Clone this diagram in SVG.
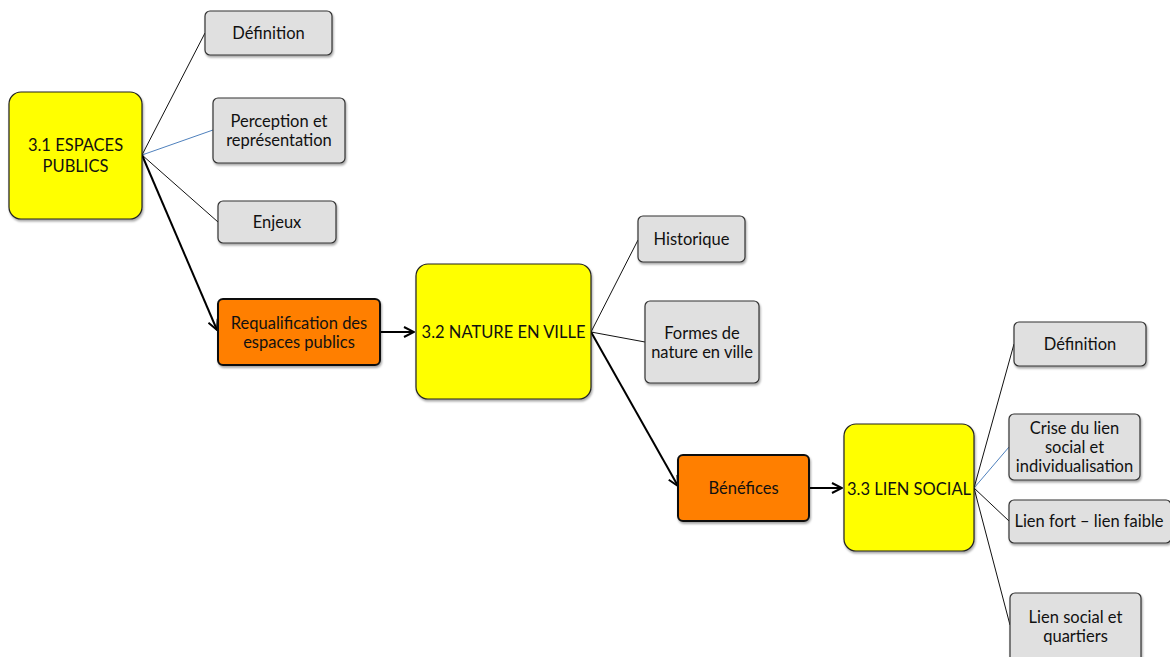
<svg xmlns="http://www.w3.org/2000/svg" width="1170" height="657" viewBox="0 0 1170 657">
<defs>
<filter id="sh" x="-10%" y="-10%" width="130%" height="130%"><feDropShadow dx="1" dy="2" stdDeviation="1.2" flood-color="#000" flood-opacity="0.35"/></filter>
<marker id="ar" viewBox="0 0 12 12" refX="11" refY="6" markerWidth="12" markerHeight="12" markerUnits="userSpaceOnUse" orient="auto"><path d="M1,1 L11,6 L1,11" fill="none" stroke="#000" stroke-width="2"/></marker>
<style>
.y{fill:#ffff00;stroke:#222;stroke-width:1.2;filter:url(#sh)}
.g{fill:#e0e0e0;stroke:#333;stroke-width:1.2;filter:url(#sh)}
.o{fill:#ff7f00;stroke:#111;stroke-width:2;filter:url(#sh)}
text{font-family:Lato,"Open Sans","Liberation Sans",sans-serif;font-size:16.5px;fill:#111;text-anchor:middle}
.thin{stroke:#111;stroke-width:1;fill:none}
.blue{stroke:#4f81bd;stroke-width:1;fill:none}
.thick{stroke:#000;stroke-width:2;fill:none;marker-end:url(#ar)}
</style>
</defs>
<g id="connectors">
<line class="thin" x1="142" y1="155" x2="205" y2="33"/>
<line class="blue" x1="142" y1="155" x2="213" y2="130"/>
<line class="thin" x1="142" y1="155" x2="218" y2="222"/>
<line class="thick" x1="142" y1="155" x2="217" y2="330"/>
<line class="thick" x1="380" y1="332" x2="414" y2="332"/>
<line class="thin" x1="591" y1="332" x2="638" y2="240"/>
<line class="thin" x1="591" y1="332" x2="645" y2="342"/>
<line class="thick" x1="591" y1="332" x2="678" y2="486"/>
<line class="thick" x1="809" y1="488" x2="842" y2="488"/>
<line class="thin" x1="974" y1="488" x2="1014" y2="344"/>
<line class="blue" x1="974" y1="488" x2="1009" y2="447"/>
<line class="thin" x1="974" y1="488" x2="1009" y2="521"/>
<line class="thin" x1="974" y1="488" x2="1010" y2="625"/>
</g>
<g id="n31"><rect class="y" x="9" y="92" width="133" height="127" rx="12"/><text x="75.5" y="151">3.1 ESPACES</text><text x="75.5" y="172">PUBLICS</text></g>
<g id="def1"><rect class="g" x="205" y="11" width="127" height="44" rx="5"/><text x="268.5" y="39">Définition</text></g>
<g id="perc"><rect class="g" x="213" y="98" width="132" height="65" rx="5"/><text x="279" y="127">Perception et</text><text x="279" y="146">représentation</text></g>
<g id="enj"><rect class="g" x="218" y="201" width="118" height="42" rx="5"/><text x="277" y="228">Enjeux</text></g>
<g id="requal"><rect class="o" x="218" y="299" width="162" height="66" rx="5"/><text x="299" y="329">Requalification des</text><text x="299" y="348">espaces publics</text></g>
<g id="n32"><rect class="y" x="416" y="264" width="175" height="135" rx="12"/><text x="503.5" y="338">3.2 NATURE EN VILLE</text></g>
<g id="hist"><rect class="g" x="638" y="216" width="107" height="46" rx="5"/><text x="691.5" y="245">Historique</text></g>
<g id="formes"><rect class="g" x="645" y="301" width="114" height="82" rx="5"/><text x="702" y="339">Formes de</text><text x="702" y="358">nature en ville</text></g>
<g id="benef"><rect class="o" x="678" y="455" width="131" height="66" rx="5"/><text x="743.5" y="494">Bénéfices</text></g>
<g id="n33"><rect class="y" x="844" y="424" width="130" height="127" rx="12"/><text x="909" y="495">3.3 LIEN SOCIAL</text></g>
<g id="def2"><rect class="g" x="1014" y="322" width="132" height="44" rx="5"/><text x="1080" y="350">Définition</text></g>
<g id="crise"><rect class="g" x="1009" y="414" width="131" height="66" rx="5"/><text x="1074.5" y="434">Crise du lien</text><text x="1074.5" y="453">social et</text><text x="1074.5" y="472">individualisation</text></g>
<g id="fort"><rect class="g" x="1009" y="500" width="162" height="43" rx="5"/><text x="1089" y="527">Lien fort – lien faible</text></g>
<g id="quart"><rect class="g" x="1010" y="593" width="131" height="70" rx="5"/><text x="1075.5" y="623">Lien social et</text><text x="1075.5" y="642">quartiers</text></g>
</svg>
